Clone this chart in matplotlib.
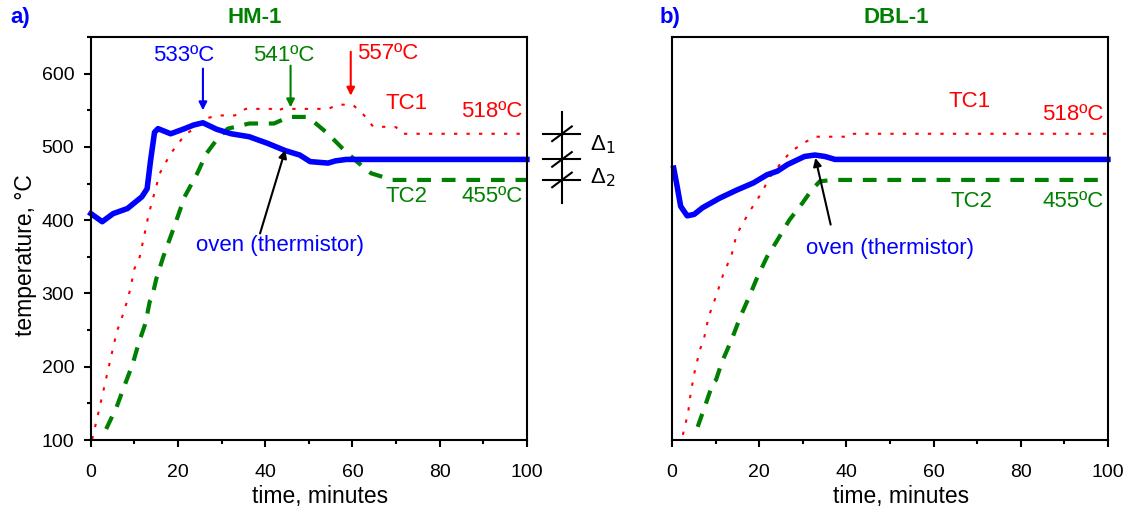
import matplotlib
matplotlib.use("Agg")
import matplotlib.pyplot as plt
from matplotlib.ticker import MultipleLocator

plt.rcParams['font.family'] = ['Liberation Sans', 'DejaVu Sans']
plt.rcParams['font.size'] = 16

BLUE = '#0000ff'
RED = '#ff0000'
GREEN = '#008000'

# panel a) HM-1
a_oven_t = [0, 2.6, 5.1, 8.4, 11.7, 12.9, 13.7, 14.6, 15.4, 18.3, 21.5, 23.6, 25.7, 28.9,
            32.2, 36.3, 40.5, 44.6, 47.9, 50.3, 54.4, 56.1, 58.6, 100]
a_oven_T = [409, 398, 409, 416, 432, 443, 482, 520, 525, 518, 525, 530, 533, 524,
            518, 514, 505, 495, 489, 480, 478, 481, 483, 483]
a_tc1_t = [0.3, 2.1, 3.5, 5.9, 7.7, 9.0, 10.0, 11.2, 13.3, 15.8, 18.3, 21.5, 23.6, 26.5,
           29.0, 33.0, 35.5, 41.3, 42.5, 43.8, 54.4, 56.9, 60.2, 62.7, 64.7, 70.0, 71.3, 100]
a_tc1_T = [101, 147, 184, 247, 277, 305, 334, 350, 409, 464, 491, 516, 525, 539,
           543, 543, 552, 552, 548, 552, 552, 558, 557, 543, 528, 527, 518, 518]
a_tc2_t = [3.5, 5.9, 7.7, 9.6, 10.9, 12.5, 13.5, 14.0, 15.0, 16.6, 19.1, 21.5, 24.4, 26.5,
           29.0, 31.4, 36.3, 42.0, 45.4, 49.5, 51.2, 54.4, 57.7, 61.0, 64.3, 69.2, 100]
a_tc2_T = [115, 145, 174, 204, 231, 259, 289, 294, 320, 350, 391, 432, 464, 491,
           511, 525, 532, 532, 541, 541, 534, 518, 498, 480, 464, 455, 455]

# panel b) DBL-1
b_oven_t = [0.4, 1.2, 2.0, 3.5, 5.1, 7.0, 10.9, 14.8, 18.7, 21.8, 24.2, 26.5, 30.4,
            32.8, 35.1, 37.4, 100]
b_oven_T = [471, 446, 419, 406, 408, 417, 430, 441, 451, 462, 467, 476, 487,
            489, 487, 483, 483]
b_tc1_t = [2.5, 3.7, 4.3, 5.2, 6.4, 7.3, 8.4, 10.1, 11.7, 13.7, 14.8, 17.6, 20.3, 22.6,
           25.0, 27.3, 30.4, 32.8, 41.0, 41.7, 100]
b_tc1_T = [107, 137, 164, 193, 223, 237, 268, 296, 325, 353, 380, 410, 435, 460,
           478, 494, 506, 514, 514, 518, 518]
b_tc2_t = [5.9, 7.8, 9.4, 10.1, 11.5, 13.7, 15.6, 17.6, 19.5, 21.8, 24.2, 26.9, 30.0,
           32.0, 33.9, 36.7, 100]
b_tc2_T = [118, 150, 178, 182, 207, 237, 267, 294, 321, 350, 373, 400, 424,
           441, 453, 455, 455]

# values marked by the delta bracket (TC1, oven, TC2 at steady state)
delta_levels = [518, 483, 455]

fig = plt.figure(figsize=(11.36, 5.12), dpi=100)
ax_a = fig.add_axes([0.080, 0.1406, 0.3838, 0.787])
ax_b = fig.add_axes([0.5915, 0.1406, 0.3838, 0.787])


def style_axes(ax, ylabels=True):
    ax.set_xlim(0, 100)
    ax.set_ylim(100, 650)
    ax.xaxis.set_major_locator(MultipleLocator(20))
    ax.xaxis.set_minor_locator(MultipleLocator(10))
    ax.yaxis.set_major_locator(MultipleLocator(100))
    ax.yaxis.set_minor_locator(MultipleLocator(50))
    ax.tick_params(which='major', direction='out', length=5, width=1.5, labelsize=14)
    ax.tick_params(which='minor', direction='out', length=3, width=1.5)
    ax.tick_params(axis='x', which='major', pad=12)
    ax.tick_params(axis='y', which='major', pad=7)
    ax.tick_params(top=False, right=False, which='both')
    if not ylabels:
        ax.tick_params(axis='y', which='both', left=False, labelleft=False)
    for s in ax.spines.values():
        s.set_linewidth(1.5)
    ax.set_xlabel('time, minutes', fontsize=16.5)
    ax.xaxis.set_label_coords(0.525, -0.112)


def draw_curves(ax, oven_t, oven_T, tc1_t, tc1_T, tc2_t, tc2_T):
    ax.plot(tc1_t, tc1_T, color=RED, lw=1.5, dashes=(1.6, 4.4))
    ax.plot(tc2_t, tc2_T, color=GREEN, lw=3, dashes=(3.3, 2.6))
    ax.plot(oven_t, oven_T, color=BLUE, lw=4, solid_joinstyle='round', clip_on=False)


style_axes(ax_a)
ax_a.set_ylabel('temperature, \u00b0C', fontsize=16.5)
ax_a.yaxis.set_label_coords(-0.124, 0.459)
draw_curves(ax_a, a_oven_t, a_oven_T, a_tc1_t, a_tc1_T, a_tc2_t, a_tc2_T)

arrow = dict(arrowstyle='-|>', lw=1.5, mutation_scale=12, shrinkA=0, shrinkB=0)
ax_a.annotate('', xy=(25.7, 550), xytext=(25.7, 607), arrowprops=dict(arrow, color=BLUE))
ax_a.text(21.3, 625, '533\u00baC', color=BLUE, ha='center', va='center')
ax_a.annotate('', xy=(45.8, 554), xytext=(45.8, 611), arrowprops=dict(arrow, color=GREEN))
ax_a.text(44.2, 625, '541\u00baC', color=GREEN, ha='center', va='center')
ax_a.annotate('', xy=(59.6, 570), xytext=(59.6, 630), arrowprops=dict(arrow, color=RED))
ax_a.text(61, 627, '557\u00baC', color=RED, ha='left', va='center')
ax_a.text(72.5, 559, 'TC1', color=RED, ha='center', va='center')
ax_a.text(99, 548, '518\u00baC', color=RED, ha='right', va='center')
ax_a.text(72.5, 432, 'TC2', color=GREEN, ha='center', va='center')
ax_a.text(99, 432, '455\u00baC', color=GREEN, ha='right', va='center')
ax_a.text(43.3, 366, 'oven (thermistor)', color=BLUE, ha='center', va='center')
ax_a.annotate('', xy=(44.6, 496), xytext=(38.8, 382), arrowprops=dict(arrow, color='black'))

# delta bracket outside panel a
ax_a.plot([108, 108], [548, 424], color='black', lw=1.5, clip_on=False)
for lev in delta_levels:
    ax_a.plot([103.7, 112.2], [lev, lev], color='black', lw=1.5, clip_on=False)
    ax_a.plot([105.8, 110.3], [lev - 10, lev + 10], color='black', lw=1.5, clip_on=False)
ax_a.text(114.5, 503, '\u0394$_1$', fontsize=16, ha='left', va='center')
ax_a.text(114.5, 458, '\u0394$_2$', fontsize=16, ha='left', va='center')

style_axes(ax_b, ylabels=False)
draw_curves(ax_b, b_oven_t, b_oven_T, b_tc1_t, b_tc1_T, b_tc2_t, b_tc2_T)
ax_b.text(68.3, 562, 'TC1', color=RED, ha='center', va='center')
ax_b.text(99, 544, '518\u00baC', color=RED, ha='right', va='center')
ax_b.text(68.6, 425, 'TC2', color=GREEN, ha='center', va='center')
ax_b.text(99, 425, '455\u00baC', color=GREEN, ha='right', va='center')
ax_b.text(50, 362, 'oven (thermistor)', color=BLUE, ha='center', va='center')
ax_b.annotate('', xy=(32.9, 485), xytext=(36.4, 394), arrowprops=dict(arrow, color='black'))

fig.text(0.018, 0.965, 'a)', color=BLUE, fontsize=16, fontweight='bold', ha='center', va='center')
fig.text(0.2245, 0.965, 'HM-1', color=GREEN, fontsize=16, fontweight='bold', ha='center', va='center')
fig.text(0.590, 0.965, 'b)', color=BLUE, fontsize=16, fontweight='bold', ha='center', va='center')
fig.text(0.789, 0.965, 'DBL-1', color=GREEN, fontsize=16, fontweight='bold', ha='center', va='center')

fig.savefig('out.png', dpi=100)
